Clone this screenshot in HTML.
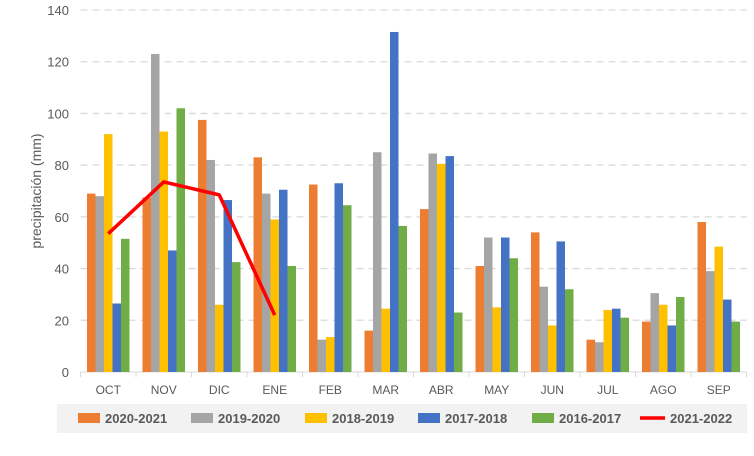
<!DOCTYPE html>
<html><head><meta charset="utf-8"><style>
body{margin:0;background:#fff;font-family:"Liberation Sans",Arial,sans-serif;}
svg text{font-family:"Liberation Sans",Arial,sans-serif;}
</style></head><body>
<svg id="chart" width="754" height="451" xmlns="http://www.w3.org/2000/svg"></svg>
<script>
const categories=["OCT","NOV","DIC","ENE","FEB","MAR","ABR","MAY","JUN","JUL","AGO","SEP"];
const s2020=[69,67.5,97.5,83,72.5,16,63,41,54,12.5,19.5,58];
const s2019=[68,123,82,69,12.5,85,84.5,52,33,11.5,30.5,39];
const s2018=[92,93,26,59,13.5,24.5,80.5,25,18,24,26,48.5];
const s2017=[26.5,47,66.5,70.5,73,131.5,83.5,52,50.5,24.5,18,28];
const s2016=[51.5,102,42.5,41,64.5,56.5,23,44,32,21,29,19.5];
const line2122=[53.5,73.5,68.5,22];
const yTicks=[0,20,40,60,80,100,120,140];
const seriesNames=["2020-2021","2019-2020","2018-2019","2017-2018","2016-2017"];
const colors=["#ed7d31","#a5a5a5","#ffc000","#4472c4","#70ad47"];
const svg=document.getElementById('chart');
const NS="http://www.w3.org/2000/svg";
function mk(t,a,p){const e=document.createElementNS(NS,t);for(const k in a)e.setAttribute(k,a[k]);(p||svg).appendChild(e);return e;}
const x0=80.5,cw=55.5,yb=372,yt=10,ymax=140;
const y=v=>yb-(v/ymax)*(yb-yt);
const xc=i=>x0+i*cw;
yTicks.forEach(t=>{
  if(t>0){const g=mk('line',{x1:x0,x2:x0+12*cw,y1:y(t),y2:y(t),stroke:'#d9d9d9','stroke-width':1.3,'stroke-dasharray':'7,5'});
  }
  const l=mk('text',{x:69,y:y(t)+5,'text-anchor':'end','font-size':13,fill:'#595959'});l.textContent=t;
  
});
const ax=mk('line',{x1:x0,x2:x0+12*cw,y1:yb,y2:yb,stroke:'#d9d9d9','stroke-width':1});

for(let i=0;i<=12;i++){const tk=mk('line',{x1:xc(i),x2:xc(i),y1:yb,y2:yb+5,stroke:'#d9d9d9'});
}
const all=[s2020,s2019,s2018,s2017,s2016];
const bw=8.5;
categories.forEach((c,i)=>{
  all.forEach((s,j)=>{
    const r=mk('rect',{x:xc(i)+6.5+j*bw,y:y(s[i]),width:bw,height:yb-y(s[i]),fill:colors[j]});
    
    
  });
  const t=mk('text',{x:xc(i)+cw/2,y:394,'text-anchor':'middle','font-size':12,fill:'#595959'});t.textContent=c;
  
});
const pts=line2122.map((v,i)=>(xc(i)+cw/2)+','+y(v)).join(' ');
const pl=mk('polyline',{points:pts,fill:'none',stroke:'#ff0000','stroke-width':3.5,'stroke-linejoin':'round'});

const yt2=mk('text',{x:0,y:0,transform:'translate(41,191) rotate(-90)','text-anchor':'middle','font-size':14,fill:'#595959'});
yt2.textContent='precipitación (mm)';
const lg=mk('g',{});
mk('rect',{x:57,y:404,width:690,height:29,fill:'#f2f2f2'},lg);
const lx=[78,191,305,418,532];
seriesNames.forEach((n,j)=>{
  const e=mk('g',{},lg);
  mk('rect',{x:lx[j],y:413,width:22,height:10,fill:colors[j]},e);
  const t=mk('text',{x:lx[j]+27,y:423,'font-size':13,'font-weight':'bold',fill:'#595959'},e);t.textContent=n;
});
const e=mk('g',{},lg);
mk('line',{x1:640,x2:665,y1:418,y2:418,stroke:'#ff0000','stroke-width':3.5},e);
const t=mk('text',{x:670,y:423,'font-size':13,'font-weight':'bold',fill:'#595959'},e);t.textContent='2021-2022';
</script>
</body></html>
